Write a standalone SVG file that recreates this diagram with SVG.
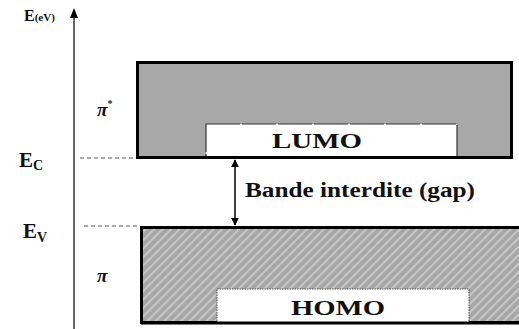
<svg xmlns="http://www.w3.org/2000/svg" width="519" height="329" viewBox="0 0 519 329">
  <style>
    .lbl { font-family: "Liberation Serif", "Times New Roman", serif; font-weight: bold; fill: #111; }
    .band { stroke: #000; stroke-width: 3; }
    .level { stroke: #555; stroke-width: 1.2; stroke-dasharray: 4 3; fill: none; }
    .axis { stroke: #333; stroke-width: 1.5; fill: none; }
  </style>
  <defs>
    <pattern id="hatch" width="6" height="6" patternUnits="userSpaceOnUse" patternTransform="rotate(45)">
      <rect width="6" height="6" fill="#a6a6a6"/>
      <rect width="2.2" height="6" fill="#c6c6c6"/>
    </pattern>
    <marker id="head" viewBox="0 0 10 10" refX="9" refY="5" markerWidth="8" markerHeight="8" markerUnits="userSpaceOnUse" orient="auto-start-reverse">
      <path d="M0,0 L10,5 L0,10 z" fill="#000"/>
    </marker>
  </defs>

  <!-- energy axis -->
  <g id="axis">
    <line class="axis" x1="74" y1="329" x2="74" y2="17"/>
    <path d="M70,18 L74,8 L78,18 z" fill="#000"/>
    <text class="lbl" x="24" y="21" font-size="16">E<tspan font-size="11">(eV)</tspan></text>
  </g>

  <!-- conduction band (pi*) -->
  <g id="lumo-band">
    <rect class="band" x="137.5" y="62.5" width="374" height="95" fill="#a8a8a8"/>
    <rect x="206" y="124" width="251" height="33" fill="#fff" stroke="#333" stroke-width="1.2" stroke-dasharray="34 2"/>
    <line x1="137" y1="157.5" x2="513" y2="157.5" stroke="#000" stroke-width="3"/>
    <text class="lbl" x="272" y="148" font-size="20" textLength="90" lengthAdjust="spacingAndGlyphs">LUMO</text>
    <text class="lbl" x="97" y="116" font-size="19" font-style="italic">π<tspan dy="-9" font-size="10" font-style="normal">*</tspan></text>
  </g>

  <!-- valence band (pi) -->
  <g id="homo-band">
    <rect class="band" x="141.5" y="227.5" width="380" height="95" fill="url(#hatch)"/>
    <rect x="217" y="289" width="252" height="34" fill="#fff" stroke="#555" stroke-width="1" stroke-dasharray="1.5 1"/>
    <line x1="141" y1="323" x2="519" y2="323" stroke="#000" stroke-width="3"/>
    <text class="lbl" x="291" y="315" font-size="21" textLength="94" lengthAdjust="spacingAndGlyphs">HOMO</text>
    <text class="lbl" x="97" y="282" font-size="19" font-style="italic">π</text>
  </g>

  <!-- level markers -->
  <g id="level-ec">
    <line class="level" x1="80" y1="158" x2="136" y2="158"/>
    <text class="lbl" x="19" y="167" font-size="21">E<tspan font-size="14" dy="3">C</tspan></text>
  </g>
  <g id="level-ev">
    <line class="level" x1="84" y1="226" x2="140" y2="226"/>
    <text class="lbl" x="23" y="238" font-size="21">E<tspan font-size="14" dy="4">V</tspan></text>
  </g>

  <!-- gap connector -->
  <g id="connectors">
    <line x1="235" y1="160" x2="235" y2="225" stroke="#000" stroke-width="1.5" marker-start="url(#head)" marker-end="url(#head)"/>
  </g>
  <g id="gap-label">
    <text class="lbl" x="245" y="197" font-size="20" textLength="230" lengthAdjust="spacingAndGlyphs">Bande interdite (gap)</text>
  </g>
</svg>
